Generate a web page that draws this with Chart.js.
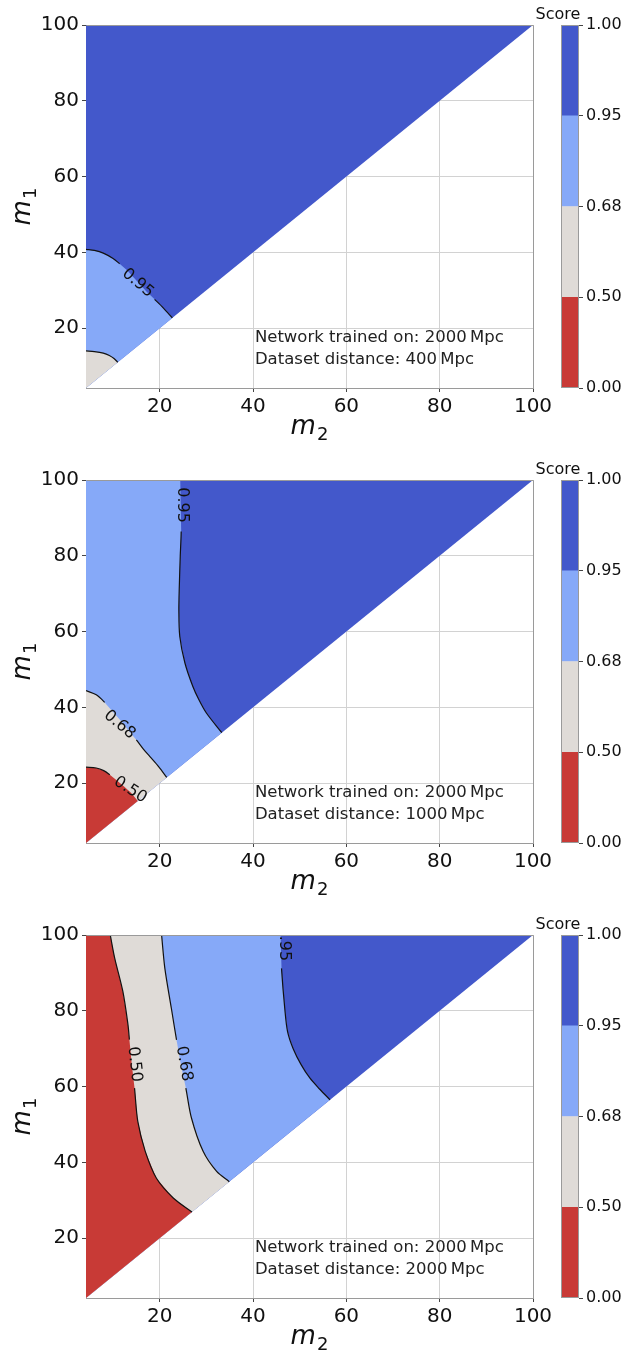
<!DOCTYPE html>
<html><head><meta charset="utf-8">
<script src="https://cdn.jsdelivr.net/npm/chart.js@4.4.1/dist/chart.umd.min.js"></script>
<style>
html,body{margin:0;padding:0;background:#fff;width:624px;height:1355px;overflow:hidden;position:relative}
canvas{position:absolute;display:block}
</style></head><body>
<canvas id="m0" width="624" height="445" style="left:0;top:0"></canvas>
<canvas id="c0" width="124" height="445" style="left:500px;top:0"></canvas>
<canvas id="m1" width="624" height="445" style="left:0;top:455px"></canvas>
<canvas id="c1" width="124" height="445" style="left:500px;top:455px"></canvas>
<canvas id="m2" width="624" height="445" style="left:0;top:910px"></canvas>
<canvas id="c2" width="124" height="445" style="left:500px;top:910px"></canvas>
<script>
// ---------- data ----------
const M_MIN = 4.2, M_MAX = 100;
const M_TICKS = [20, 40, 60, 80, 100];
const X_TITLE = ['m', '2'];   // m_2
const Y_TITLE = ['m', '1'];   // m_1

const CB_BOUNDS = ['0.00', '0.50', '0.68', '0.95', '1.00'];
const CB_BANDS = [1, 1, 1, 1];          // uniform colorbar spacing per band

// Panel 1: dataset distance 400 Mpc  (contour curves [m2, m1])
const P1_C095 = [[4.2,40.8],[6,40.5],[7.9,39.8],[10,38.4],[11.4,37.0],[13,35.3],[15.3,32.2],[17.2,29.6],[18.9,27.6],[20.8,25.3],[22.7,22.7]];
const P1_C068 = [[4.2,14.0],[6,13.8],[7.9,13.4],[9.2,12.8],[10.2,12.0],[11,11]];
const P1_INFO = ['Network trained on: 2000\u2009Mpc', 'Dataset distance: 400\u2009Mpc'];

// Panel 2: dataset distance 1000 Mpc
const P2_C095 = [[24.4,100],[24.5,93],[24.6,86.4],[24.4,80],[24.2,72],[24.1,65.7],[24.3,58.7],[25.4,51.7],[27.1,45.5],[28.4,42.0],[30.0,38.5],[33.3,33.3]];
const P2_C068 = [[4.2,44.4],[6.4,43.3],[8.2,41.3],[10,38.8],[11.7,36.4],[13.3,33.9],[15.0,31.4],[16.5,29.0],[17.9,27.0],[19.8,24.3],[21.5,21.5]];
const P2_C050 = [[4.2,24.2],[6.4,24.0],[8,23.3],[9.3,22.2],[10.7,20.8],[12.3,19.2],[13.9,17.4],[15.3,15.3]];
const P2_INFO = ['Network trained on: 2000\u2009Mpc', 'Dataset distance: 1000\u2009Mpc'];

// Panel 3: dataset distance 2000 Mpc
const P3_C095 = [[45.9,100],[46.0,95.5],[46.1,91.2],[46.8,80.6],[47.4,74.5],[48.6,70.0],[50.3,65.8],[52.2,62.2],[54.3,59.3],[56.5,56.5]];
const P3_C068 = [[20.4,100],[21.1,91.2],[22.5,80.6],[23.6,72.3],[24.5,66.0],[25.6,59.6],[26.8,51.7],[29.3,42.9],[32.2,37.6],[34.9,34.9]];
const P3_C050 = [[9.4,100],[10.35,93.9],[12.1,85.1],[13.2,76.3],[13.5,72.4],[14.0,66.0],[14.6,59.6],[15.3,50.8],[16.9,42.9],[19.3,35.8],[22.9,30.6],[26.9,26.9]];
const P3_INFO = ['Network trained on: 2000\u2009Mpc', 'Dataset distance: 2000\u2009Mpc'];

// ---------- styles ----------
const COL = {dark:'#4358CB', light:'#86A9F8', grey:'#DFDBD7', red:'#C83A36'};
const CB_COLORS = [COL.red, COL.grey, COL.light, COL.dark];
const FONT = "'DejaVu Sans', sans-serif";
Chart.defaults.font.family = FONT;
Chart.defaults.color = '#111';

const pts = a => a.map(p => ({x: p[0], y: p[1]}));
const TRI = [[M_MIN, M_MIN], [M_MIN, M_MAX], [M_MAX, M_MAX]];
const BL = [[M_MIN, M_MIN]];
const BL_TL = [[M_MIN, M_MIN], [M_MIN, M_MAX]];

function region(poly, color, order) {
  return {data: pts(poly), showLine: true, fill: 'shape', backgroundColor: color,
          borderColor: 'rgba(0,0,0,0)', borderWidth: 0, pointRadius: 0, order: order, tension: 0};
}
function contour(curve, gap, order) {
  return {data: pts(curve), showLine: true, fill: false, borderColor: '#111', borderWidth: 1.2,
          pointRadius: 0, order: order, tension: 0.3,
          segment: {borderColor: c => gap.includes(c.p0DataIndex) ? 'rgba(0,0,0,0)' : undefined}};
}

const PANELS = [
  {id:'m0', cb:'c0', info:P1_INFO,
   datasets:[region(TRI, COL.dark, 10), region(P1_C095.concat(BL), COL.light, 9), region(P1_C068.concat(BL), COL.grey, 8),
             contour(P1_C095, [4,5,6,7], 1), contour(P1_C068, [], 1)],
   labels:[{t:'0.95', x:15.3, y:31.9, r:40}]},
  {id:'m1', cb:'c1', info:P2_INFO,
   datasets:[region(TRI, COL.dark, 10), region(P2_C095.concat(BL_TL), COL.light, 9), region(P2_C068.concat(BL), COL.grey, 8),
             region(P2_C050.concat(BL), COL.red, 7),
             contour(P2_C095, [0,1], 1), contour(P2_C068, [2,3,4,5], 1), contour(P2_C050, [3,4,5,6], 1)],
   labels:[{t:'0.95', x:24.9, y:93.4, r:90}, {t:'0.68', x:11.4, y:35.4, r:40}, {t:'0.50', x:13.7, y:18.2, r:33}]},
  {id:'m2', cb:'c2', info:P3_INFO,
   datasets:[region(TRI, COL.dark, 10), region(P3_C095.concat(BL_TL), COL.light, 9), region(P3_C068.concat(BL_TL), COL.grey, 8),
             region(P3_C050.concat(BL_TL), COL.red, 7),
             contour(P3_C095, [0,1], 1), contour(P3_C068, [3,4], 1), contour(P3_C050, [4,5], 1)],
   labels:[{t:'0.50', x:14.6, y:65.9, r:84}, {t:'0.68', x:25.2, y:66.0, r:80}, {t:'0.95', x:46.6, y:97.8, r:90}]}
];

// ---------- plugins ----------
const framePlugin = {
  id: 'frame',
  afterDraw(chart) {
    const {ctx, chartArea: a} = chart;
    ctx.save();
    ctx.strokeStyle = '#9a9a9a'; ctx.lineWidth = 1;
    ctx.beginPath();
    ctx.moveTo(Math.round(a.left) + 0.5, Math.round(a.top) + 0.5);
    ctx.lineTo(Math.round(a.right) + 0.5, Math.round(a.top) + 0.5);
    ctx.lineTo(Math.round(a.right) + 0.5, Math.round(a.bottom) + 0.5);
    ctx.stroke();
    ctx.restore();
  }
};
function drawMath(ctx, parts, cx, cy) {
  // italic symbol with upright subscript, centred at (cx, cy)
  ctx.font = 'italic 26px ' + FONT;
  const w1 = ctx.measureText(parts[0]).width;
  ctx.font = '18px ' + FONT;
  const w2 = ctx.measureText(parts[1]).width;
  const x0 = cx - (w1 + w2 + 1) / 2;
  ctx.textAlign = 'left'; ctx.textBaseline = 'alphabetic';
  ctx.font = 'italic 26px ' + FONT;
  ctx.fillText(parts[0], x0, cy + 6);
  ctx.font = '18px ' + FONT;
  ctx.fillText(parts[1], x0 + w1 + 1, cy + 12);
}
const titlePlugin = {
  id: 'mtitles',
  afterDraw(chart) {
    const {ctx, chartArea: a} = chart;
    ctx.save();
    ctx.fillStyle = '#111';
    drawMath(ctx, X_TITLE, (a.left + a.right) / 2, a.bottom + 40);
    ctx.translate(24, (a.top + a.bottom) / 2);
    ctx.rotate(-Math.PI / 2);
    drawMath(ctx, Y_TITLE, 0, 0);
    ctx.restore();
  }
};
const textPlugin = {
  id: 'ctext',
  afterDraw(chart, args, opts) {
    const {ctx, chartArea: a, scales: {x, y}} = chart;
    ctx.save();
    ctx.beginPath(); ctx.rect(a.left, a.top, a.right - a.left, a.bottom - a.top); ctx.clip();
    ctx.fillStyle = '#111';
    ctx.font = '16px ' + FONT;
    ctx.textAlign = 'center'; ctx.textBaseline = 'middle';
    for (const l of opts.labels) {
      ctx.save();
      ctx.translate(x.getPixelForValue(l.x), y.getPixelForValue(l.y));
      ctx.rotate(l.r * Math.PI / 180);
      ctx.fillText(l.t, 0, 0);
      ctx.restore();
    }
    ctx.font = '16.5px ' + FONT;
    ctx.fillStyle = '#222';
    ctx.textAlign = 'left';
    const x0 = x.getPixelForValue(40.4);
    const ys = [17.4, 11.6];
    opts.info.forEach((s, i) => ctx.fillText(s, x0, y.getPixelForValue(ys[i])));
    ctx.restore();
  }
};
const cbPlugin = {
  id: 'cbdeco',
  afterDraw(chart) {
    const {ctx, chartArea: a} = chart;
    ctx.save();
    ctx.strokeStyle = '#9a9a9a'; ctx.lineWidth = 1;
    ctx.strokeRect(Math.round(a.left) + 0.5, Math.round(a.top) + 0.5, Math.round(a.right - a.left) - 1, Math.round(a.bottom - a.top) - 1);
    ctx.fillStyle = '#111';
    ctx.font = '16px ' + FONT;
    ctx.textAlign = 'center'; ctx.textBaseline = 'middle';
    ctx.fillText('Score', 58, 15);
    ctx.restore();
  }
};

// ---------- charts ----------
function axisOpts(isX) {
  return {
    type: 'linear', min: M_MIN, max: M_MAX, z: 1,
    afterBuildTicks: s => { s.ticks = M_TICKS.map(v => ({value: v})); },
    afterFit: s => { if (isX) s.height = 57; else s.width = 86; },
    grid: {color: '#d2d2d2', lineWidth: 1, tickLength: 4, tickColor: '#444', drawOnChartArea: true},
    border: {color: '#9a9a9a', width: 1},
    ticks: {color: '#111', font: {size: 20}, padding: 3, maxRotation: 0, autoSkip: false},
    title: {display: false}
  };
}

PANELS.forEach(p => {
  new Chart(document.getElementById(p.id), {
    type: 'scatter',
    data: {datasets: p.datasets},
    options: {
      responsive: false, animation: false, events: [],
      layout: {padding: {top: 25, right: 91, left: 0, bottom: 0}},
      plugins: {legend: {display: false}, tooltip: {enabled: false},
                ctext: {labels: p.labels, info: p.info}},
      scales: {x: axisOpts(true), y: axisOpts(false)}
    },
    plugins: [framePlugin, textPlugin, titlePlugin]
  });

  new Chart(document.getElementById(p.cb), {
    type: 'bar',
    data: {labels: [''], datasets: CB_BANDS.map((v, i) => ({
      data: [v], backgroundColor: CB_COLORS[i], borderWidth: 0,
      barPercentage: 1, categoryPercentage: 1}))},
    options: {
      responsive: false, animation: false, events: [],
      layout: {padding: {top: 25, left: 61, right: 0, bottom: 57}},
      plugins: {legend: {display: false}, tooltip: {enabled: false}},
      scales: {
        x: {display: false, stacked: true},
        y: {stacked: true, position: 'right', min: 0, max: CB_BANDS.length,
            afterBuildTicks: s => { s.ticks = CB_BOUNDS.map((b, i) => ({value: i})); },
            afterFit: s => { s.width = 45; },
            ticks: {callback: (v, i) => CB_BOUNDS[i], font: {size: 16}, color: '#111', padding: 3},
            grid: {drawOnChartArea: false, tickLength: 4, tickColor: '#444'},
            border: {display: false}}
      }
    },
    plugins: [cbPlugin]
  });
});
</script>
</body></html>
